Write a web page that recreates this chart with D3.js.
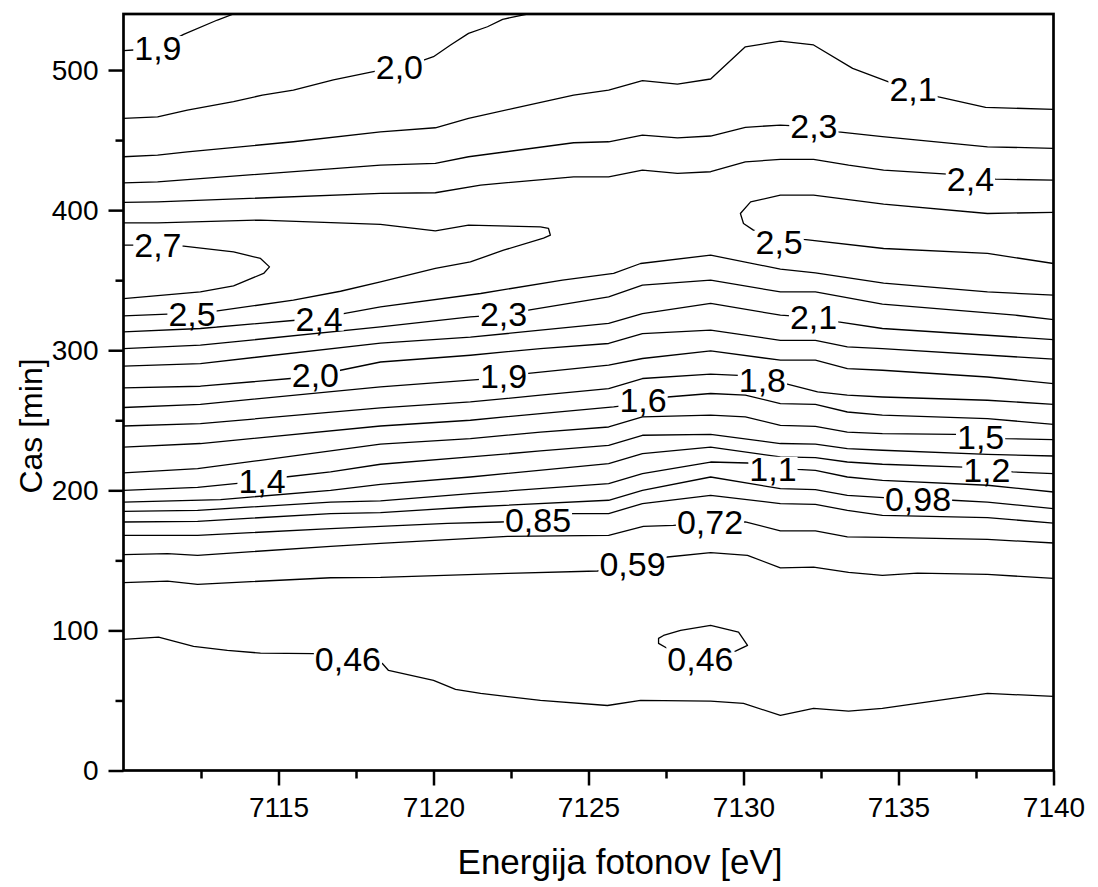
<!DOCTYPE html>
<html>
<head>
<meta charset="utf-8">
<script src="https://cdn.jsdelivr.net/npm/d3@7"></script>
<style>
body { margin: 0; background: #fff; }
svg { font-family: "Liberation Sans", Arial, sans-serif; }
</style>
</head>
<body>
<script>
"use strict";

// Axis ticks
var xTicks = [7115, 7120, 7125, 7130, 7135, 7140];
var xMinor = [7112.5, 7117.5, 7122.5, 7127.5, 7132.5, 7137.5];
var yTicks = [0, 100, 200, 300, 400, 500];
var yMinor = [50, 150, 250, 350, 450];

// Contour lines, [energy eV, time min]
var c046a = [[7110,93.6],[7111.13,95.2],[7112.26,88.6],[7113.35,85.7],[7114.42,83.8],[7116.13,83.4],[7117.24,80],[7118.35,76.4],[7118.55,71.4],[7120.0,64.3],[7120.71,57.9],[7121.52,55],[7123.45,50],[7125.61,46.4],[7126.68,50],[7128.94,49.5],[7130.0,47.9],[7131.19,39.3],[7132.26,44.3],[7133.39,42.4],[7134.48,44.3],[7137.87,55],[7140,52.9]];
var c046b = [[7127.55,87.1],[7127.26,90.7],[7127.26,94.3],[7127.42,96.4],[7127.97,100],[7128.94,103.6],[7129.84,98.8],[7130.13,89.3],[7129.74,85.2],[7128.61,81.4],[7127.55,87.1]];
var c059 = [[7110,134.1],[7111.42,135.2],[7112.39,132.9],[7116.68,137.6],[7118.29,137.9],[7122.39,140.7],[7125.29,142.4],[7126.42,147.5],[7127.55,152.4],[7128.94,155.5],[7130.13,153.6],[7131.19,144.6],[7132.26,145.2],[7133.39,141.4],[7134.48,139.3],[7135.61,140.9],[7137.87,140],[7140,137.1]];
var c072 = [[7110,154.1],[7111.42,154.8],[7112.39,153.6],[7116.68,160],[7118.29,162.1],[7122.39,167.1],[7125.65,167.9],[7126.77,174.3],[7127.74,175],[7128.92,177],[7130.06,177.4],[7131.19,171.1],[7132.32,171.1],[7133.35,166.8],[7134.52,166.4],[7137.87,165],[7140,162.4]];
var c085 = [[7110,167.9],[7112.39,167.9],[7116.68,172.6],[7118.29,174.3],[7120.45,176.4],[7122.16,177.4],[7123.37,178.6],[7124.48,183.4],[7125.65,183.4],[7126.74,190.5],[7128.94,196.4],[7131.19,190.5],[7132.32,190],[7133.35,185.7],[7134.48,182.1],[7137.87,180.5],[7140,176.6]];
var c098 = [[7110,177.4],[7112.39,177.9],[7116.68,183.4],[7118.29,184.1],[7121.19,188.1],[7125.65,192.9],[7126.74,200],[7128.94,209.5],[7131.19,201.2],[7132.32,200.5],[7133.35,196.4],[7134.52,194.8],[7135.63,193.6],[7136.74,192.9],[7137.87,191.6],[7140,186.9]];
var c111 = [[7110,185],[7112.39,185.7],[7116.68,191.6],[7118.29,192.4],[7121.19,197.6],[7125.65,204.8],[7126.74,211.9],[7128.94,220.2],[7130.13,219.5],[7130.95,217.5],[7131.74,215],[7132.32,214.3],[7133.35,209.5],[7134.48,207.1],[7137.87,203.6],[7140,198.8]];
var c124 = [[7110,191.6],[7113.13,193.4],[7116.68,200],[7118.29,204.3],[7121.19,209.5],[7125.65,219.1],[7126.74,226.2],[7128.94,230.9],[7131.19,223.8],[7132.32,223.4],[7133.35,220.2],[7134.48,218.6],[7137.10,216.6],[7137.85,215.6],[7138.68,213.1],[7140,211.9]];
var c137 = [[7110,200],[7112.39,202.1],[7113.68,205],[7114.47,206.5],[7115.23,209.5],[7116.68,213.1],[7118.29,218.6],[7121.19,223.8],[7123.45,228.1],[7125.65,232.1],[7126.74,239.3],[7128.94,240],[7131.19,233.4],[7132.32,232.9],[7133.35,229.8],[7134.48,228.6],[7137.87,225.7],[7140,224.5]];
var c150 = [[7110,212.4],[7112.39,215.5],[7114.42,221.4],[7118.29,232.9],[7121.19,236.9],[7123.45,241.6],[7125.65,245.2],[7126.74,252.4],[7128.94,253.6],[7130.06,252.4],[7131.19,246.4],[7132.32,245.7],[7133.35,241.6],[7134.48,240.5],[7136.84,240],[7137.65,239.3],[7138.45,236.9],[7140,236.2]];
var c163 = [[7110,230.9],[7112.48,233.4],[7118.29,245.9],[7121.19,250],[7123.45,254.8],[7125.81,259.5],[7126.76,262],[7127.55,266.6],[7128.94,269.1],[7130.06,267.9],[7131.19,261.9],[7132.32,261.4],[7133.35,255.9],[7134.48,253.6],[7137.87,251.2],[7140,247.1]];
var c176 = [[7110,245.9],[7112.48,247.6],[7118.29,258.8],[7121.19,263.1],[7123.45,267.9],[7125.65,272.6],[7126.74,279.8],[7128.94,282.9],[7129.84,282.1],[7130.61,279.5],[7131.35,276.2],[7132.39,270.2],[7133.35,267.9],[7134.48,266.6],[7137.87,264.3],[7140,261.4]];
var c189 = [[7110,259.1],[7112.48,261.4],[7118.29,273.8],[7121.19,278.6],[7122.26,280.5],[7123.06,283.4],[7125.65,289.3],[7126.74,294.1],[7128.94,299.5],[7131.19,292.9],[7132.32,292.9],[7133.35,286.9],[7134.48,285.7],[7137.87,280.9],[7140,276.2]];
var c202 = [[7110,273.1],[7112.48,274.3],[7115.39,279.8],[7116.19,281.4],[7117.0,285.7],[7118.29,291.6],[7121.19,296.4],[7123.45,301.2],[7125.65,304.8],[7126.74,311.9],[7128.94,314.3],[7131.19,307.1],[7132.32,307.1],[7133.35,302.4],[7134.48,301.2],[7140,293.6]];
var c215 = [[7110,288.6],[7112.48,290.5],[7118.29,305],[7121.19,309.3],[7123.45,314.3],[7125.65,319.1],[7126.74,326.2],[7128.94,333.4],[7131.19,325],[7132.26,323.5],[7133.06,320.2],[7134.48,315.5],[7137.87,310.7],[7140,307.6]];
var c228 = [[7110,301.2],[7112.48,303.6],[7118.29,316.6],[7121.19,323.8],[7122.26,325.4],[7123.06,328.6],[7125.65,338.1],[7126.74,346.4],[7128.94,350],[7131.19,341.6],[7132.32,341.6],[7134.48,332.9],[7138.77,325],[7140,321.9]];
var c241 = [[7110,313.1],[7112.48,315.5],[7115.55,321.4],[7116.31,322.5],[7117.10,326.2],[7118.29,330.9],[7121.52,340.5],[7124.16,350],[7125.81,354.8],[7126.68,361.9],[7128.94,367.9],[7131.19,357.9],[7132.32,355.2],[7134.52,347.9],[7137.87,341.6],[7140,339.3]];
var c254a = [[7110,390.9],[7111.10,390.9],[7114.42,392.9],[7118.29,389.8],[7120.06,385.2],[7121.13,389.3],[7123.45,388.1],[7123.71,386.9],[7123.77,382.1],[7123.55,380],[7122.26,371.4],[7121.19,363.1],[7120.06,358.4],[7118.29,348.8],[7117.0,342.1],[7115.48,335.7],[7113.03,328.1],[7112.21,325.9],[7111.42,325.7],[7110,324.5]];
var c254b = [[7140,398.4],[7137.87,397.6],[7134.52,404.3],[7132.26,410.7],[7131.19,410.7],[7130.23,405.9],[7129.9,397.6],[7130.0,390.5],[7130.32,385.7],[7131.15,382],[7131.94,379.1],[7134.52,372.6],[7137.87,369.1],[7140,361.9]];
var c267 = [[7110,375],[7110.32,375],[7111.94,374.3],[7113.55,370.2],[7114.42,365.5],[7114.71,359.5],[7114.52,354.8],[7113.55,346],[7112.48,341.7],[7110,336.9]];
var c241u = [[7110,405.5],[7111.10,405.9],[7118.29,411.9],[7120.06,412.4],[7121.52,417.9],[7124.52,423.8],[7125.65,423.8],[7126.74,428.6],[7127.87,426.2],[7128.94,427.4],[7130.06,434.5],[7131.19,436.2],[7132.26,436.2],[7133.39,432.1],[7134.52,428.6],[7136.58,425.7],[7137.32,424],[7138.13,422.1],[7140,421.4]];
var c228u = [[7110,419.5],[7111.10,420.2],[7118.29,432.1],[7120.06,433.4],[7121.13,438.1],[7124.52,448.1],[7125.65,448.8],[7126.74,453.6],[7127.87,451.6],[7128.94,452.9],[7130.06,459.1],[7131.19,460.7],[7132.27,459.5],[7133.06,455.9],[7134.48,452.4],[7137.87,445.2],[7140,444.1]];
var c215u = [[7110,438.1],[7111.10,439.3],[7112.06,441.6],[7115.48,448.8],[7118.29,455.9],[7120.06,458.8],[7121.13,465.5],[7122.58,472.6],[7124.52,482.1],[7125.65,485.7],[7126.74,492.4],[7127.87,490],[7128.94,493.6],[7130.06,516.6],[7131.19,520.6],[7132.26,517.9],[7133.52,501.2],[7134.68,491.6],[7135.47,486.8],[7136.29,480.9],[7137.81,473.4],[7140,471.9]];
var c202u = [[7110,465.5],[7111.10,466.6],[7112.06,471.4],[7113.55,477.4],[7114.48,482.1],[7115.48,485.7],[7116.77,492.9],[7118.06,498.8],[7118.9,502.5],[7119.68,507.1],[7120.0,509.5],[7120.55,517.9],[7121.13,526.2],[7121.74,530.9],[7122.23,536.2],[7123.03,540]];
var c189u = [[7110,513.8],[7110.32,514.3],[7111.11,515.7],[7111.94,525.5],[7113.03,535.7],[7113.55,540]];

var contours = [c046a, c046b, c059, c072, c085, c098, c111, c124, c137, c150, c163, c176, c189, c202, c215, c228, c241, c254a, c254b, c267, c241u, c228u, c215u, c202u, c189u];

// Contour labels
var labelText = ["1,9", "2,0", "2,1", "2,3", "2,4", "2,5", "2,7", "2,5", "2,4", "2,3", "2,1", "2,0", "1,9", "1,8", "1,6", "1,5", "1,4", "1,2", "1,1", "0,98", "0,85", "0,72", "0,59", "0,46", "0,46"];
var labelAt = [[7111.11,515.7],[7118.9,502.5],[7135.47,486.8],[7132.27,460],[7137.32,422.5],[7131.15,377.5],[7111.11,375],[7112.21,325.7],[7116.31,322.5],[7122.26,326.1],[7132.26,323.9],[7116.19,282.1],[7122.26,281.4],[7130.61,278.6],[7126.76,264.6],[7137.65,238.2],[7114.47,206.8],[7137.85,214.3],[7130.95,215.4],[7135.63,193.9],[7123.37,178.6],[7128.92,177.5],[7126.42,147.5],[7117.24,79.6],[7128.61,79.6]];

var W = 1098, H = 887;
var x = d3.scaleLinear().domain([7110, 7140]).range([123.5, 1053.5]);
var y = d3.scaleLinear().domain([0, 540]).range([770.5, 14]);

var svg = d3.select("body").append("svg").attr("width", W).attr("height", H);

svg.append("defs").append("clipPath").attr("id", "plot")
  .append("rect").attr("x", x(7110)).attr("y", y(540)).attr("width", x(7140) - x(7110)).attr("height", y(0) - y(540));

//Contour lines
var line = d3.line().x(function (d) { return x(d[0]); }).y(function (d) { return y(d[1]); });

svg.append("g").attr("clip-path", "url(#plot)").selectAll("path").data(contours).enter().append("path")
  .attr("d", line).attr("fill", "none").attr("stroke", "#000").attr("stroke-width", 1.3).attr("stroke-linejoin", "round");

//Labels with white box behind
var lab = svg.append("g").selectAll("g").data(labelText).enter().append("g");
lab.append("text")
  .attr("x", function (d, i) { return x(labelAt[i][0]); })
  .attr("y", function (d, i) { return y(labelAt[i][1]) + 12; })
  .attr("text-anchor", "middle").style("font-size", "34px").text(function (d) { return d; });
lab.each(function (d, i) {
  var bb = d3.select(this).select("text").node().getBBox();
  var cy = y(labelAt[i][1]);
  d3.select(this).insert("rect", "text").attr("x", bb.x - 1).attr("width", bb.width + 2)
    .attr("y", cy - 12).attr("height", 24).attr("fill", "#fff");
});

//Axes
svg.append("g").attr("transform", "translate(0," + y(0) + ")")
  .call(d3.axisBottom(x).tickValues(xTicks).tickSize(15).tickPadding(12).tickSizeOuter(0).tickFormat(d3.format("d")));
svg.append("g").attr("transform", "translate(0," + y(0) + ")")
  .call(d3.axisBottom(x).tickValues(xMinor).tickSize(8).tickSizeOuter(0).tickFormat(""));
svg.append("g").attr("transform", "translate(" + x(7110) + ",0)")
  .call(d3.axisLeft(y).tickValues(yTicks).tickSize(15).tickPadding(10).tickSizeOuter(0).tickFormat(d3.format("d")));
svg.append("g").attr("transform", "translate(" + x(7110) + ",0)")
  .call(d3.axisLeft(y).tickValues(yMinor).tickSize(8).tickSizeOuter(0).tickFormat(""));

svg.selectAll(".domain").remove();
svg.selectAll(".tick line").attr("stroke", "#000").attr("stroke-width", 2.5);
svg.selectAll(".tick text").attr("fill", "#000").style("font-size", "28px").style("font-family", "'Liberation Sans', Arial, sans-serif");

//Frame
svg.append("rect").attr("x", x(7110)).attr("y", y(540)).attr("width", x(7140) - x(7110)).attr("height", y(0) - y(540))
  .attr("fill", "none").attr("stroke", "#000").attr("stroke-width", 2.7);

//Titles
svg.append("text").attr("x", 620).attr("y", 874).attr("text-anchor", "middle").style("font-size", "35px").text("Energija fotonov [eV]");
svg.append("text").attr("transform", "translate(42,426) rotate(-90)").attr("text-anchor", "middle").style("font-size", "32px").text("Cas [min]");
</script>
</body>
</html>
